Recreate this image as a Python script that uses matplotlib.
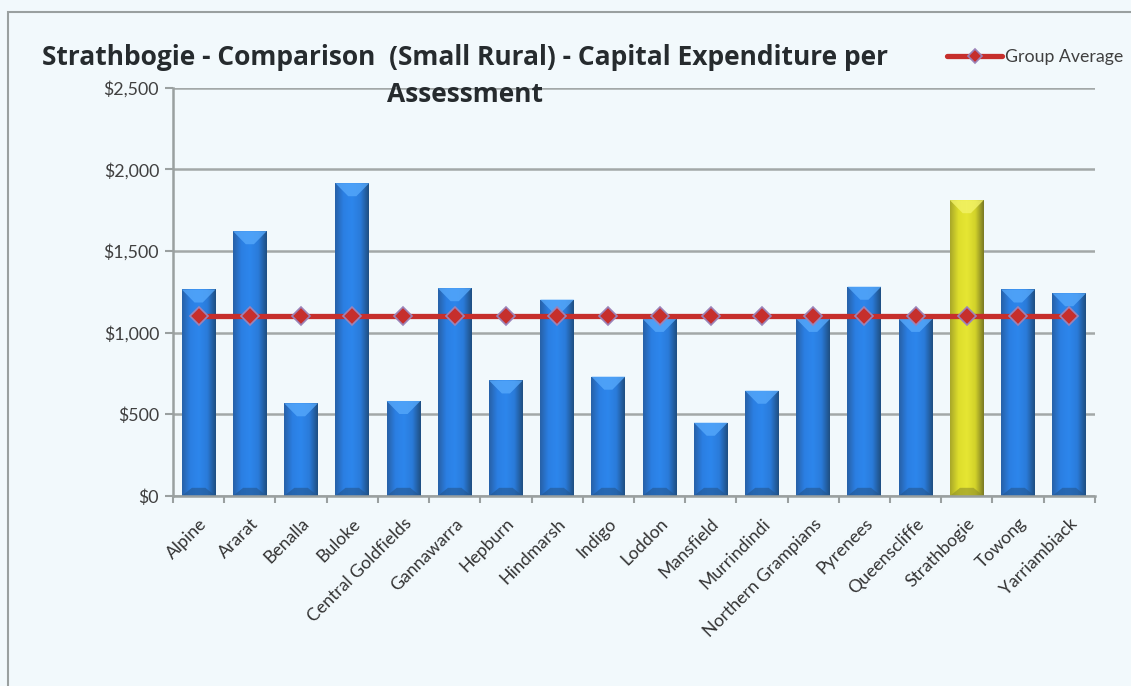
# Capital expenditure per assessment, small rural councils, with group average line

import matplotlib
matplotlib.use("Agg")
import matplotlib.pyplot as plt
import numpy as np
from matplotlib.patches import Polygon, Rectangle
from matplotlib.ticker import FuncFormatter, FixedLocator

councils = ["Alpine", "Ararat", "Benalla", "Buloke", "Central Goldfields",
            "Gannawarra", "Hepburn", "Hindmarsh", "Indigo", "Loddon",
            "Mansfield", "Murrindindi", "Northern Grampians", "Pyrenees",
            "Queenscliffe", "Strathbogie", "Towong", "Yarriambiack"]
capex = [1265, 1622, 568, 1916, 582, 1273, 708, 1203, 731, 1085,
         449, 645, 1085, 1282, 1085, 1812, 1265, 1242]
group_average = [1100] * len(councils)
highlight = "Strathbogie"

plt.rcParams['font.family'] = ['Lato', 'DejaVu Sans']

BG = "#f2f9fc"
fig = plt.figure(figsize=(11.31, 6.86), dpi=100, facecolor=BG)
ax = fig.add_axes([0.153, 0.277, 0.815, 0.595])
ax.set_facecolor(BG)

# outer chart border
fig.add_artist(Rectangle((8 / 1131, -0.01), 1.1, 1 - 12 / 686 + 0.01,
                         transform=fig.transFigure, fill=False,
                         edgecolor="#9aa0a0", linewidth=1.5))

x = np.arange(len(councils))
width = 0.66
bars = ax.bar(x, capex, width=width, color="#2a7de0", zorder=2)

blue = dict(grad=["#2761a8", "#2b7fe3", "#2d86ec", "#2a7bda", "#1f4f82"],
            hi="#55a8fb", lo="#24568e")
yellow = dict(grad=["#a9a829", "#dede2c", "#e6e633", "#d2d22a", "#7a7a24"],
              hi="#f3f368", lo="#8f8f2a")

TOP_BEVEL = 80   # depth of the bevel, in dollars
BOT_BEVEL = 50

def shade(bar, style):
    bx, by = bar.get_x(), bar.get_y()
    bw, bh = bar.get_width(), bar.get_height()
    grad = np.linspace(0, 1, 64)
    cols = style["grad"]
    stops = np.linspace(0, 1, len(cols))
    rgb = np.array([matplotlib.colors.to_rgb(c) for c in cols])
    img = np.stack([np.interp(grad, stops, rgb[:, k]) for k in range(3)], axis=-1)[None, :, :]
    im = ax.imshow(img, extent=[bx, bx + bw, by, by + bh], aspect="auto",
                   zorder=2.1, interpolation="bilinear")
    im.set_clip_path(bar)
    # bevel at the top and the bottom of each bar
    top = by + bh
    ax.add_patch(Polygon([[bx, top], [bx + bw, top], [bx + bw * 0.62, top - TOP_BEVEL],
                          [bx + bw * 0.38, top - TOP_BEVEL]], closed=True,
                         facecolor=style["hi"], edgecolor="none", alpha=0.8, zorder=2.2))
    ax.add_patch(Polygon([[bx, by], [bx + bw, by], [bx + bw * 0.7, by + BOT_BEVEL],
                          [bx + bw * 0.3, by + BOT_BEVEL]], closed=True,
                         facecolor=style["lo"], edgecolor="none", alpha=0.6, zorder=2.2))

for name, bar in zip(councils, bars):
    shade(bar, yellow if name == highlight else blue)

ax.plot(x, group_average, color="#c62f2c", linewidth=3.8, marker="D",
        markersize=9, markerfacecolor="#c62f2c", markeredgecolor="#9b83b8",
        markeredgewidth=1.2, zorder=4, label="Group Average", solid_capstyle="round")

ax.set_xlim(-0.5, len(councils) - 0.5)
ax.set_ylim(0, 2500)
ax.set_yticks(range(0, 2501, 500))
ax.yaxis.set_major_formatter(FuncFormatter(lambda v, p: f"${int(v):,}"))
ax.grid(axis="y", color="#a3a8a8", linewidth=1.8, zorder=1)
ax.set_axisbelow(True)

ax.set_xticks(x)
ax.set_xticklabels(councils, rotation=45, ha="right", rotation_mode="anchor",
                   fontsize=12.7, color="#333333")
ax.tick_params(axis="x", length=0, pad=14)
ax.xaxis.set_minor_locator(FixedLocator(np.arange(-0.5, len(councils), 1)))
ax.tick_params(axis="x", which="minor", length=5, width=1.5, color="#9aa0a0")
ax.tick_params(axis="y", length=6, width=1.5, color="#9aa0a0",
               labelsize=12.8, labelcolor="#404040", pad=4)

for side in ["top", "right"]:
    ax.spines[side].set_visible(False)
for side in ["left", "bottom"]:
    ax.spines[side].set_color("#9aa0a0")
    ax.spines[side].set_linewidth(1.8)

title_font = dict(fontsize=19, fontweight="bold", color="#262b2e",
                  family=["Open Sans", "DejaVu Sans"])
fig.text(0.411, 0.916, "Strathbogie - Comparison  (Small Rural) - Capital Expenditure per",
         ha="center", va="center", **title_font)
fig.text(0.411, 0.862, "Assessment", ha="center", va="center", **title_font)

leg = ax.legend(loc="upper left", bbox_to_anchor=(0.832, 1.113), frameon=False,
                fontsize=12.8, handlelength=3.1, handletextpad=0.15, borderaxespad=0,
                markerscale=0.75)
for t in leg.get_texts():
    t.set_color("#404040")

fig.savefig("out.png", dpi=100, facecolor=BG)
